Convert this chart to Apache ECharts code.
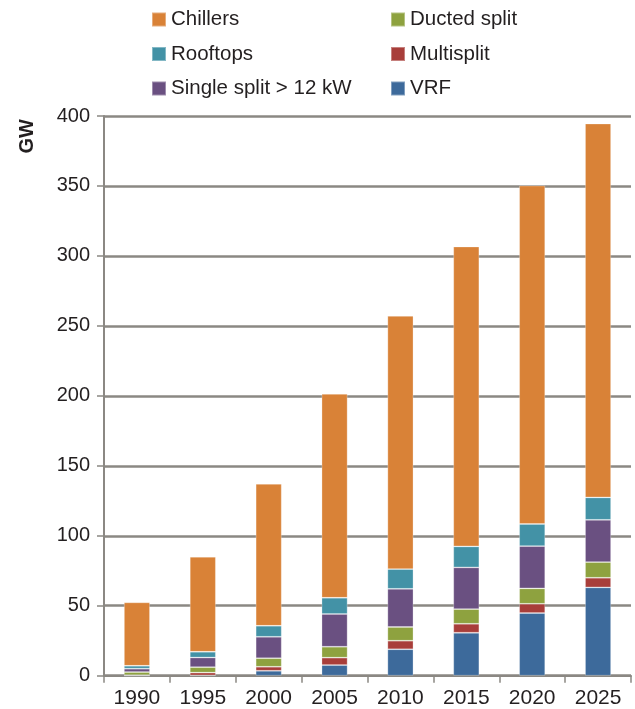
<!DOCTYPE html>
<html>
<head>
<meta charset="utf-8">
<script src="https://cdn.jsdelivr.net/npm/echarts@6/dist/echarts.min.js"></script>
<style>
  html, body { margin: 0; padding: 0; background: #ffffff; }
  #chart { width: 635px; height: 709px; }
</style>
</head>
<body>
<div id="chart"></div>
<script>
const years = ['1990', '1995', '2000', '2005', '2010', '2015', '2020', '2025'];
const vrf         = [0,    0.2,  3.5,  7.6,  18.9, 30.7, 44.8, 63.1];
const multisplit  = [0.4,  2.0,  2.9,  5.3,  6.1,  6.4,  6.6,  6.9];
const ductedSplit = [2.2,  3.9,  6.1,  7.8,  9.8,  10.5, 11.0, 11.2];
const singleSplit = [2.4,  6.9,  15.3, 23.4, 27.3, 29.8, 30.2, 30.2];
const rooftops    = [2.1,  4.1,  7.9,  11.6, 14.1, 15.0, 15.8, 16.0];
const chillers    = [45.3, 67.9, 101.4, 145.7, 180.9, 214.3, 241.9, 267.2];
const yTicks = [0, 50, 100, 150, 200, 250, 300, 350, 400];

const FONT = '"Liberation Sans", Arial, Helvetica, sans-serif';
const TXT = '#231f20';
const GRIDC = '#8b8883';

const seriesDefs = [
  { name: 'VRF', data: vrf, color: '#3d6a9b' },
  { name: 'Multisplit', data: multisplit, color: '#a83e3a' },
  { name: 'Ducted split', data: ductedSplit, color: '#8ea23f' },
  { name: 'Single split > 12 kW', data: singleSplit, color: '#6a5081' },
  { name: 'Rooftops', data: rooftops, color: '#4392a6' },
  { name: 'Chillers', data: chillers, color: '#d98237' }
];

const legendCommon = {
  orient: 'vertical',
  icon: 'rect',
  itemWidth: 14,
  itemHeight: 14,
  itemGap: 13.5,
  selectedMode: false,
  textStyle: { fontFamily: FONT, fontSize: 20.5, color: TXT }
};

const chart = echarts.init(document.getElementById('chart'), null, { renderer: 'canvas' });
chart.setOption({
  animation: false,
  backgroundColor: '#ffffff',
  legend: [
    Object.assign({}, legendCommon, { left: 146, top: 4, data: ['Chillers', 'Rooftops', 'Single split > 12 kW'] }),
    Object.assign({}, legendCommon, { left: 385, top: 4, data: ['Ducted split', 'Multisplit', 'VRF'] })
  ],
  grid: { left: 104, right: 4, top: 116, bottom: 33.3, containLabel: false },
  xAxis: {
    type: 'category',
    data: years,
    axisLine: { lineStyle: { color: GRIDC, width: 2 } },
    axisTick: { show: true, length: 7, lineStyle: { color: GRIDC, width: 1.5 } },
    axisLabel: { fontFamily: FONT, fontSize: 21, color: TXT, margin: 12 }
  },
  yAxis: {
    type: 'value',
    min: 0, max: 400, interval: 50,
    axisLine: { show: true, lineStyle: { color: GRIDC, width: 2 } },
    axisTick: { show: true, length: 7, lineStyle: { color: GRIDC, width: 1.5 } },
    splitLine: { show: true, lineStyle: { color: GRIDC, width: 2.6 } },
    axisLabel: {
      fontFamily: FONT, fontSize: 20, color: TXT, margin: 14,
      formatter: function (v) { return yTicks.indexOf(v) >= 0 ? String(v) : ''; }
    }
  },
  graphic: [{
    type: 'text',
    left: 17, top: 119,
    rotation: Math.PI / 2,
    style: { text: 'GW', font: 'bold 20px ' + FONT, fill: TXT }
  }],
  series: seriesDefs.map(function (s) {
    return {
      name: s.name,
      type: 'bar',
      stack: 'total',
      barWidth: 26,
      data: s.data,
      itemStyle: { color: s.color, borderColor: 'rgba(255,255,255,0.35)', borderWidth: 0.8 }
    };
  })
});
</script>
</body>
</html>
